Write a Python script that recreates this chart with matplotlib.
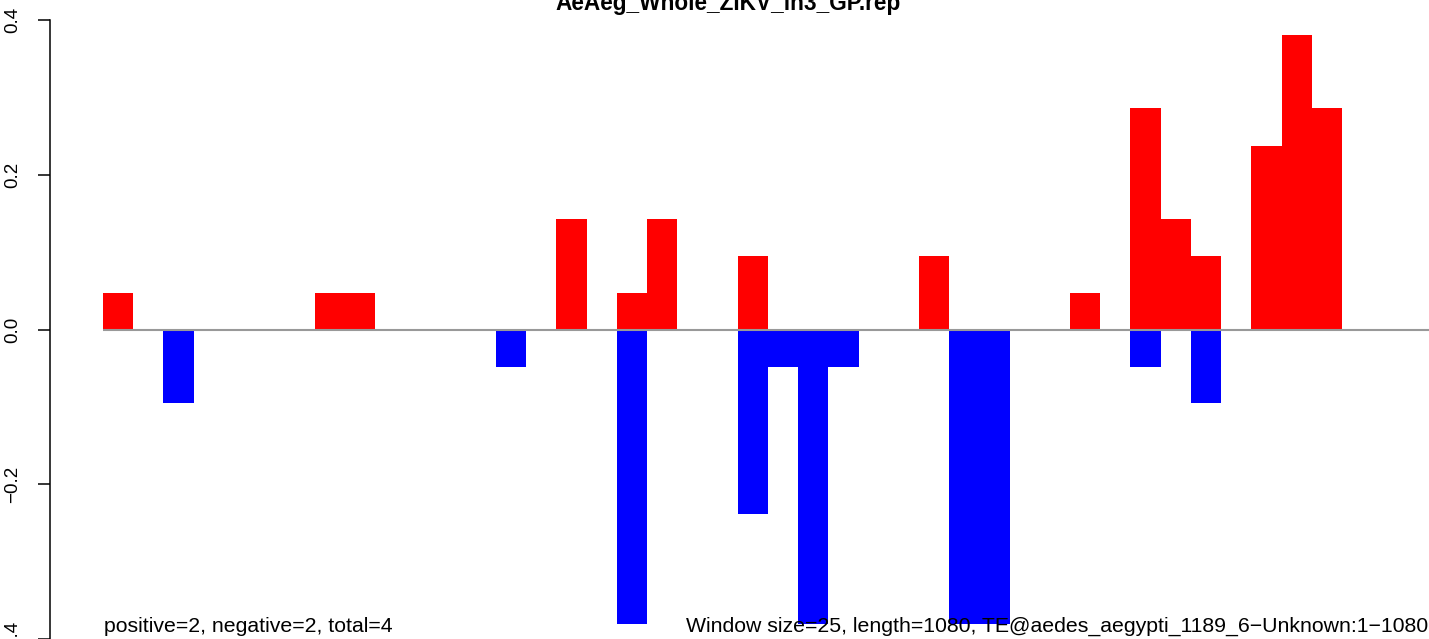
import matplotlib.pyplot as plt

plt.rcParams['font.family'] = ['Liberation Sans', 'DejaVu Sans']

# window summary data
window = 25
length = 1080
title = "AeAeg_Whole_ZIKV_in3_GP.rep"
left_note = "positive=2, negative=2, total=4"
right_note = "Window size=25, length=1080, TE@aedes_aegypti_1189_6\u2212Unknown:1\u22121080"

# fraction per window (44 windows), positive strand / negative strand
pos = [0.048, 0, 0, 0, 0, 0, 0, 0.048, 0.048, 0, 0, 0, 0, 0, 0, 0.143, 0, 0.048, 0.143, 0, 0,
       0.095, 0, 0, 0, 0, 0, 0.095, 0, 0, 0, 0, 0.048, 0, 0.286, 0.143, 0.095, 0, 0.238, 0.381,
       0.286, 0, 0, 0]
neg = [0, 0, -0.095, 0, 0, 0, 0, 0, 0, 0, 0, 0, 0, -0.048, 0, 0, 0, -0.381, 0, 0, 0,
       -0.238, -0.048, -0.381, -0.048, 0, 0, 0, -0.381, -0.381, 0, 0, 0, 0, -0.048, 0, -0.095, 0, 0, 0,
       0, 0, 0, 0]
yticks = [-0.4, -0.2, 0.0, 0.2, 0.4]
ytick_labels = ["\u22120.4", "\u22120.2", "0.0", "0.2", "0.4"]

starts = [i * window for i in range(len(pos))]

W, H = 1429, 639
fig = plt.figure(figsize=(W / 100, H / 100), dpi=100)
ax = fig.add_axes([50 / W, 0, (W - 50) / W, 1])

ax.bar(starts, pos, width=window, align='edge', color='#ff0000', linewidth=0)
ax.bar(starts, neg, width=window, align='edge', color='#0000ff', linewidth=0)
ax.hlines(0, 0, length + 20, color='#999999', linewidth=1.5)

px = 30.22 / window
ax.set_xlim(-53 / px, (W - 103) / px)
ppu = 782.5
ax.set_ylim(-(H - 333.5) / ppu, 333.5 / ppu)

for s in ['top', 'right', 'bottom']:
    ax.spines[s].set_visible(False)
ax.spines['left'].set_bounds(-0.4, 0.4)
ax.spines['left'].set_linewidth(1.1)
ax.set_xticks([])
ax.set_yticks(yticks)
ax.set_yticklabels(ytick_labels, rotation=90, va='center', fontsize=13.5)
ax.tick_params(axis='y', length=8.6, width=1.1, pad=12)

fig.text(728 / W, 1 - 10 / H, title, ha='center', va='baseline', fontweight='bold', fontsize=16.3)
fig.text(104 / W, 1 - 632 / H, left_note, ha='left', va='baseline', fontsize=15.3)
fig.text(686 / W, 1 - 632 / H, right_note, ha='left', va='baseline', fontsize=15.3)

fig.savefig('out.png', dpi=100)
